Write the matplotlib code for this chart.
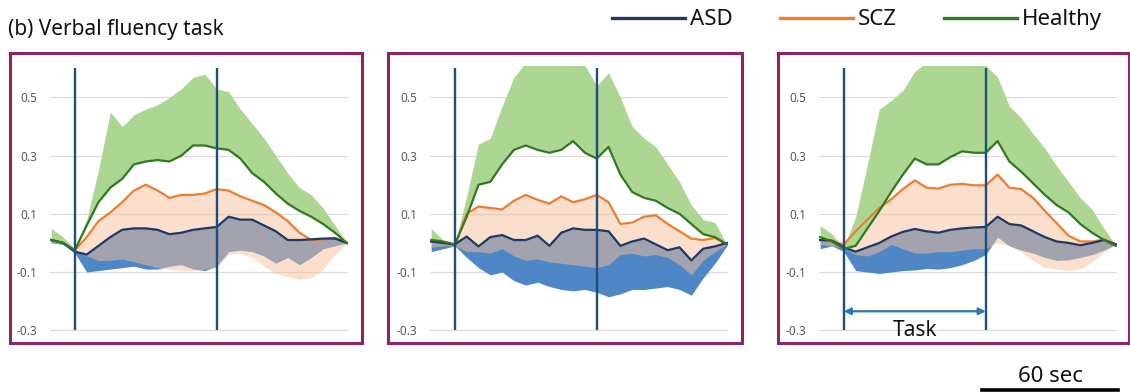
import numpy as np
import matplotlib
matplotlib.use("Agg")
import matplotlib.pyplot as plt
from matplotlib.patches import Rectangle
from matplotlib.lines import Line2D

plt.rcParams['font.family'] = ['Noto Sans', 'DejaVu Sans']

# time axis (sec), task block 0-60 s
t = np.arange(-10, 116, 5)
task_on, task_off = 0, 60

# panel 1
p1_hc = [0.01, 0.0, -0.025, 0.06, 0.14, 0.19, 0.22, 0.27, 0.28, 0.285, 0.28, 0.30, 0.335,
         0.335, 0.325, 0.32, 0.29, 0.24, 0.21, 0.17, 0.135, 0.11, 0.09, 0.065, 0.035, 0.0]
p1_hc_hi = [0.05, 0.02, -0.02, 0.08, 0.25, 0.45, 0.40, 0.44, 0.46, 0.475, 0.50, 0.53, 0.57,
            0.58, 0.53, 0.52, 0.46, 0.41, 0.36, 0.30, 0.24, 0.19, 0.165, 0.12, 0.06, 0.0]
p1_scz = [0.01, 0.0, -0.025, 0.02, 0.075, 0.105, 0.14, 0.18, 0.20, 0.18, 0.155, 0.165, 0.165,
          0.17, 0.185, 0.18, 0.16, 0.145, 0.13, 0.105, 0.075, 0.035, 0.01, 0.012, 0.018, 0.0]
p1_scz_lo = [0.0, -0.005, -0.03, -0.045, -0.06, -0.06, -0.055, -0.065, -0.075, -0.085, -0.09,
             -0.095, -0.095, -0.09, -0.085, -0.04, -0.035, -0.05, -0.08, -0.105, -0.115,
             -0.125, -0.12, -0.09, -0.04, 0.0]
p1_asd = [0.01, 0.0, -0.03, -0.04, -0.01, 0.02, 0.045, 0.05, 0.05, 0.045, 0.03, 0.035, 0.045,
          0.05, 0.055, 0.09, 0.08, 0.08, 0.06, 0.04, 0.01, 0.01, 0.012, 0.015, 0.015, 0.0]
p1_asd_lo = [0.0, -0.005, -0.035, -0.10, -0.095, -0.09, -0.085, -0.08, -0.09, -0.09, -0.08,
             -0.075, -0.09, -0.095, -0.08, -0.03, -0.025, -0.03, -0.045, -0.07, -0.05,
             -0.075, -0.05, -0.02, -0.01, 0.0]

# panel 2
p2_hc = [0.01, 0.005, -0.005, 0.09, 0.20, 0.21, 0.27, 0.32, 0.335, 0.32, 0.31, 0.32, 0.35,
         0.31, 0.29, 0.33, 0.235, 0.175, 0.155, 0.145, 0.12, 0.10, 0.065, 0.03, 0.02, -0.005]
p2_hc_hi = [0.05, 0.01, -0.005, 0.16, 0.34, 0.36, 0.47, 0.57, 0.62, 0.62, 0.61, 0.62, 0.62,
            0.61, 0.54, 0.585, 0.50, 0.40, 0.36, 0.33, 0.27, 0.21, 0.13, 0.08, 0.07, -0.005]
p2_scz = [0.005, 0.0, -0.01, 0.10, 0.125, 0.12, 0.115, 0.145, 0.165, 0.148, 0.135, 0.16, 0.14,
          0.15, 0.165, 0.14, 0.065, 0.07, 0.09, 0.095, 0.065, 0.04, 0.015, 0.01, 0.017, -0.005]
p2_scz_lo = [-0.015, -0.01, -0.01, -0.03, -0.03, -0.035, -0.02, -0.045, -0.06, -0.055, -0.065,
             -0.07, -0.075, -0.08, -0.085, -0.075, -0.04, -0.035, -0.045, -0.04, -0.05,
             -0.075, -0.11, -0.06, -0.03, -0.005]
p2_asd = [0.005, 0.0, -0.005, 0.022, -0.012, 0.02, 0.027, 0.01, 0.01, 0.025, -0.01, 0.035,
          0.05, 0.045, 0.045, 0.04, -0.01, 0.005, 0.015, -0.005, -0.025, -0.015, -0.06,
          -0.02, -0.012, 0.0]
p2_asd_lo = [-0.03, -0.02, -0.01, -0.05, -0.085, -0.11, -0.10, -0.13, -0.145, -0.135, -0.15,
             -0.16, -0.165, -0.16, -0.17, -0.185, -0.175, -0.16, -0.16, -0.155, -0.15, -0.16,
             -0.18, -0.12, -0.07, -0.01]

# panel 3
p3_hc = [0.02, 0.005, -0.02, -0.01, 0.05, 0.11, 0.175, 0.235, 0.29, 0.27, 0.27, 0.295, 0.315,
         0.31, 0.31, 0.35, 0.28, 0.245, 0.205, 0.165, 0.13, 0.105, 0.065, 0.035, 0.01, -0.01]
p3_hc_hi = [0.06, 0.03, -0.015, 0.09, 0.27, 0.46, 0.49, 0.525, 0.59, 0.62, 0.62, 0.62, 0.62,
            0.62, 0.61, 0.57, 0.47, 0.43, 0.375, 0.325, 0.265, 0.21, 0.155, 0.115, 0.05, -0.01]
p3_scz = [0.01, 0.005, -0.005, 0.04, 0.08, 0.12, 0.15, 0.185, 0.215, 0.19, 0.187, 0.20, 0.203,
          0.198, 0.198, 0.235, 0.19, 0.185, 0.155, 0.11, 0.068, 0.025, 0.005, 0.005, 0.012, -0.005]
p3_scz_lo = [-0.005, -0.01, -0.02, -0.04, -0.045, -0.03, -0.005, -0.02, -0.035, -0.035, -0.03,
             -0.03, -0.025, -0.02, -0.02, 0.0, -0.01, -0.03, -0.06, -0.085, -0.09, -0.095,
             -0.09, -0.065, -0.03, -0.005]
p3_asd = [0.01, 0.008, -0.015, -0.03, -0.015, 0.0, 0.022, 0.038, 0.048, 0.04, 0.035, 0.045,
          0.05, 0.053, 0.055, 0.09, 0.065, 0.06, 0.04, 0.02, 0.005, 0.0, -0.008, 0.0, 0.01, -0.005]
p3_asd_lo = [-0.02, -0.01, -0.03, -0.095, -0.10, -0.105, -0.10, -0.095, -0.093, -0.088, -0.09,
             -0.085, -0.075, -0.06, -0.04, 0.02, -0.01, -0.025, -0.035, -0.05, -0.06, -0.058,
             -0.05, -0.04, -0.025, -0.005]

panels = [
    (p1_hc, p1_hc_hi, p1_scz, p1_scz_lo, p1_asd, p1_asd_lo),
    (p2_hc, p2_hc_hi, p2_scz, p2_scz_lo, p2_asd, p2_asd_lo),
    (p3_hc, p3_hc_hi, p3_scz, p3_scz_lo, p3_asd, p3_asd_lo),
]
yticks = [-0.3, -0.1, 0.1, 0.3, 0.5]
groups = ['ASD', 'SCZ', 'Healthy']

c_asd, c_asd_fill = '#1f3864', '#4f86c6'
c_scz, c_scz_fill = '#ed7d31', '#f6c09a'
c_hc, c_hc_fill = '#2f7a22', '#acd692'
c_vline = '#1f4e79'
c_frame = '#8e2461'

W, H = 1130, 392
fig = plt.figure(figsize=(W / 100, H / 100), dpi=100)

def fx(px):
    return px / W

def fy(py):
    return 1 - py / H

# pixel layout of each panel: axes left edge, frame left/right
ax_left = [50, 430, 819]
frame_lr = [(10, 362), (388, 742), (778, 1129)]
ax_w, ax_top, ax_bot = 298, 65.5, 336

for i, (hc, hc_hi, scz, scz_lo, asd, asd_lo) in enumerate(panels):
    ax = fig.add_axes([fx(ax_left[i]), fy(ax_bot), ax_w / W, (ax_bot - ax_top) / H])
    ax.fill_between(t, asd_lo, asd, color=c_asd_fill, lw=0)
    ax.fill_between(t, scz_lo, scz, color=c_scz_fill, alpha=0.5, lw=0)
    ax.fill_between(t, hc, hc_hi, color=c_hc_fill, lw=0)
    ax.plot(t, scz, color=c_scz, lw=1.6)
    ax.plot(t, asd, color=c_asd, lw=1.6)
    ax.plot(t, hc, color=c_hc, lw=1.6)
    ax.vlines([task_on, task_off], -0.3, 0.6, color=c_vline, lw=1.7, zorder=5)

    ax.set_xlim(-10.5, 115.5)
    ax.set_ylim(-0.32, 0.61)
    ax.set_yticks(yticks)
    ax.set_yticklabels([f'{v:.1f}' for v in yticks])
    ax.set_xticks([])
    ax.yaxis.grid(True, color='#dcdcdc', lw=0.9)
    ax.set_axisbelow(True)
    ax.tick_params(axis='y', length=0, pad=9, labelsize=8.5, labelcolor='#595959')
    for s in ax.spines.values():
        s.set_visible(False)

    l, r = frame_lr[i]
    fig.patches.append(Rectangle((fx(l), fy(343)), (r - l) / W, 290 / H, fill=False,
                                 ec=c_frame, lw=2.2, transform=fig.transFigure))

    if i == 2:
        ax.annotate('', xy=(task_on, -0.235), xytext=(task_off, -0.235),
                    arrowprops=dict(arrowstyle='<|-|>', color='#2e75b6', lw=1.6,
                                    mutation_scale=10, shrinkA=0, shrinkB=0))
        ax.text((task_on + task_off) / 2, -0.265, 'Task', ha='center', va='top',
                fontsize=15, color='#111111')

fig.text(fx(8), fy(35), '(b) Verbal fluency task', fontsize=15, color='#111111',
         va='baseline', ha='left')

# legend
leg_x = [612, 780, 944]
for x0, name, col in zip(leg_x, groups, [c_asd, c_scz, c_hc]):
    fig.lines.append(Line2D([fx(x0), fx(x0 + 73)], [fy(18), fy(18)], color=col, lw=2.4,
                            transform=fig.transFigure))
    fig.text(fx(x0 + 78), fy(25), name, fontsize=16, color='#111111', va='baseline')

# scale bar
fig.lines.append(Line2D([fx(982), fx(1118)], [fy(389.5), fy(389.5)], color='black', lw=2.6,
                        transform=fig.transFigure))
fig.text(fx(1050), fy(382), '60 sec', fontsize=16, ha='center', va='baseline', color='#111111')

fig.savefig('out.png', dpi=100)
